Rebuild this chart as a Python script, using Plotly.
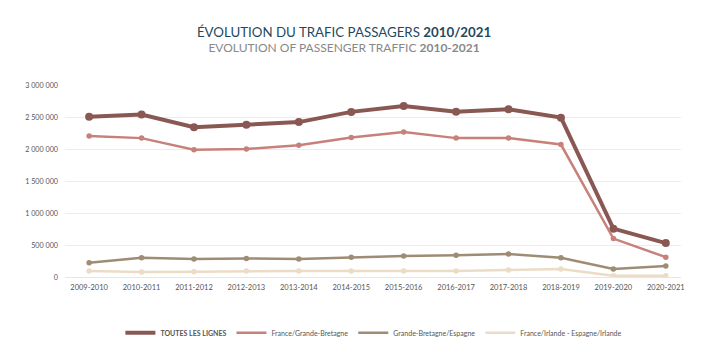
import plotly.graph_objects as go

categories = ["2009-2010", "2010-2011", "2011-2012", "2012-2013", "2013-2014", "2014-2015",
              "2015-2016", "2016-2017", "2017-2018", "2018-2019", "2019-2020", "2020-2021"]
toutes = [2505000, 2540000, 2340000, 2380000, 2420000, 2580000, 2672000, 2583000, 2620000, 2490000, 755000, 530000]
france_gb = [2203000, 2170000, 1990000, 2000000, 2060000, 2180000, 2266000, 2170000, 2170000, 2070000, 600000, 310000]
gb_esp = [224000, 300000, 280000, 290000, 280000, 310000, 330000, 340000, 360000, 300000, 125000, 170000]
fr_irl = [94000, 78000, 83000, 94000, 94000, 94000, 94000, 94000, 110000, 125000, 20000, 20000]
y_ticks = [0, 500000, 1000000, 1500000, 2000000, 2500000, 3000000]
y_labels = ["0", "500 000", "1 000 000", "1 500 000", "2 000 000", "2 500 000", "3 000 000"]

FONT = "Lato, Open Sans, sans-serif"

series = [
    ("<b>TOUTES LES LIGNES</b>", toutes, "#8a5853", 4, 8),
    ("France/Grande-Bretagne", france_gb, "#c8807a", 2.5, 5.5),
    ("Grande-Bretagne/Espagne", gb_esp, "#9f8c74", 2.5, 5.5),
    ("France/Irlande - Espagne/Irlande", fr_irl, "#ebdcc6", 2.5, 5.5),
]

fig = go.Figure()
for i, (name, vals, color, w, ms) in enumerate(series):
    fig.add_trace(go.Scatter(
        x=categories, y=vals, name=name, mode="lines+markers", legendgroup=str(i),
        showlegend=False,
        line=dict(color=color, width=w), marker=dict(color=color, size=ms),
    ))
for i, (name, vals, color, w, ms) in enumerate(series):
    fig.add_trace(go.Scatter(
        x=[None], y=[None], name=name, mode="lines", legendgroup=str(i),
        showlegend=True, line=dict(color=color, width=w),
    ))

fig.update_layout(
    width=726, height=350,
    margin=dict(l=65, r=45, t=85, b=73, autoexpand=False),
    paper_bgcolor="white", plot_bgcolor="white",
    font=dict(family=FONT, size=8, color="#555555"),
    title=dict(
        text="<span style='color:#1f4a5e;font-size:13.3px'>ÉVOLUTION DU TRAFIC PASSAGERS <b>2010/2021</b></span><br>"
             "<span style='color:#888888;font-size:12px'>EVOLUTION OF PASSENGER TRAFFIC <b>2010-2021</b></span>",
        xref="paper", x=0.453, xanchor="center", y=0.893, yanchor="top",
        font=dict(family=FONT),
    ),
    xaxis=dict(
        type="category", range=[-0.46, 11.29], showgrid=False, zeroline=False,
        showline=False, ticks="", tickfont=dict(size=7.5, color="#555555"),
        ticklabelstandoff=4, automargin=False,
    ),
    yaxis=dict(
        range=[0, 3000000], tickvals=y_ticks, ticktext=y_labels,
        showgrid=True, gridcolor="#ececec", gridwidth=1, zeroline=True,
        zerolinecolor="#e6e6e6", zerolinewidth=1, showline=False,
        tickfont=dict(size=7.2, color="#555555"), ticklabelstandoff=6, automargin=False,
    ),
    legend=dict(
        orientation="h", xref="container", x=0.515, xanchor="center",
        yref="container", y=0.049, yanchor="middle",
        font=dict(size=7, color="#555555"), tracegroupgap=0,
    ),
    showlegend=True,
)

fig.write_html("out.html")
